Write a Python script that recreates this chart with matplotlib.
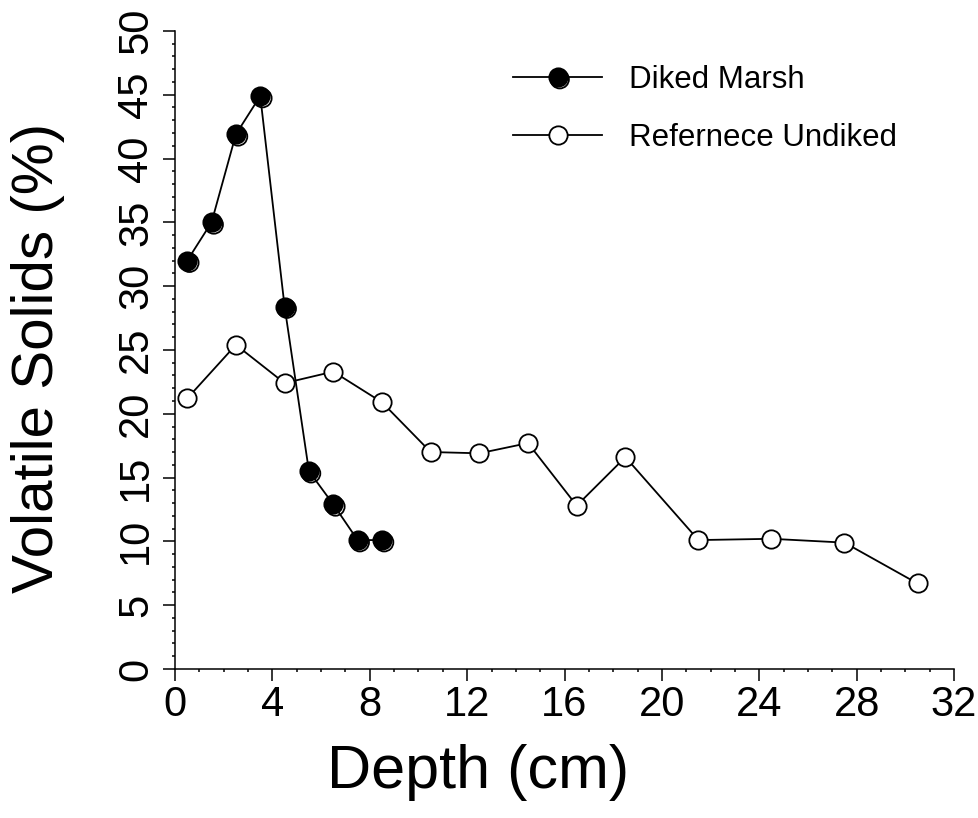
import matplotlib
matplotlib.use("Agg")
import matplotlib.pyplot as plt
import matplotlib.patheffects as pe
from matplotlib.ticker import MultipleLocator
from matplotlib.legend_handler import HandlerTuple

plt.rcParams['font.family'] = ['Liberation Sans', 'DejaVu Sans']

# depth (cm) and volatile solids (%)
diked_depth = [0.5, 1.5, 2.5, 3.5, 4.5, 5.5, 6.5, 7.5, 8.5]
diked_vs = [32.0, 35.0, 41.9, 44.9, 28.4, 15.5, 12.9, 10.1, 10.1]

ref_depth = [0.5, 2.5, 4.5, 6.5, 8.5, 10.5, 12.5, 14.5, 16.5, 18.5, 21.5, 24.5, 27.5, 30.5]
ref_vs = [21.2, 25.4, 22.4, 23.3, 20.9, 17.0, 16.9, 17.7, 12.8, 16.6, 10.1, 10.2, 9.9, 6.7]

xticks = [0, 4, 8, 12, 16, 20, 24, 28, 32]
yticks = [0, 5, 10, 15, 20, 25, 30, 35, 40, 45, 50]

fig = plt.figure(figsize=(9.79, 8.18), dpi=100)
ax = fig.add_axes((0.1788, 0.1822, 0.7957, 0.7800))

lw = 1.3
ms = 13.2

# shadow ring behind the filled markers
shadow, = ax.plot(diked_depth, diked_vs, ls='none', marker='o', ms=ms,
                  mfc='white', mec='black', mew=lw, zorder=3, clip_on=False,
                  path_effects=[pe.Stroke(offset=(1.6, -1.6))])
diked, = ax.plot(diked_depth, diked_vs, '-', color='black', lw=lw, marker='o',
                 ms=ms, mfc='black', mec='black', mew=lw, zorder=4, clip_on=False)
ref, = ax.plot(ref_depth, ref_vs, '-', color='black', lw=lw, marker='o',
               ms=ms, mfc='white', mec='black', mew=lw, zorder=2, clip_on=False)

ax.set_xlim(0, 32)
ax.set_ylim(0, 50)
ax.set_xticks(xticks)
ax.set_yticks(yticks)
ax.xaxis.set_minor_locator(MultipleLocator(1))
ax.yaxis.set_minor_locator(MultipleLocator(1))

for s in ['top', 'right']:
    ax.spines[s].set_visible(False)
for s in ['left', 'bottom']:
    ax.spines[s].set_linewidth(1.1)

ax.tick_params(which='major', direction='out', length=8.6, width=1.1,
               labelsize=30, pad=3)
ax.tick_params(which='minor', direction='out', length=2.5, width=1.1)
ax.tick_params(axis='y', labelrotation=90, pad=5)
for t in ax.get_yticklabels():
    t.set_va('center')

ax.set_xlabel('Depth (cm)', fontsize=44)
ax.set_ylabel('Volatile Solids (%)', fontsize=42)
ax.xaxis.set_label_coords(0.389, -0.118)
ax.yaxis.set_label_coords(-0.141, 0.487)

ax.legend([(shadow, diked), ref], ['Diked Marsh', 'Refernece Undiked'],
          handler_map={tuple: HandlerTuple(ndivide=1, pad=0)},
          loc='upper left', bbox_to_anchor=(513 / 979, 1 - 65 / 818),
          bbox_transform=fig.transFigure, frameon=False, fontsize=22.5,
          handlelength=2.85, handletextpad=0.85, labelspacing=0.9,
          borderpad=0, borderaxespad=0, numpoints=1)

fig.savefig('out.png', dpi=100)
